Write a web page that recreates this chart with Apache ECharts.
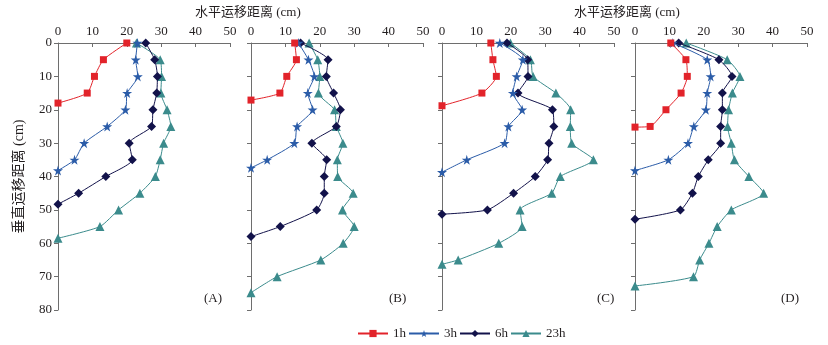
<!DOCTYPE html>
<html>
<head>
<meta charset="utf-8">
<script src="https://cdn.jsdelivr.net/npm/echarts@6/dist/echarts.min.js"></script>
<style>
  html, body { margin: 0; padding: 0; background: #fff; }
  #chart { width: 828px; height: 345px; }
</style>
</head>
<body>
<div id="chart"></div>
<script>
// Horizontal (x) and vertical (y) migration distances, cm, per panel and time
const seriesNames = ['1h', '3h', '6h', '23h'];
const panelLabels = ['(A)', '(B)', '(C)', '(D)'];
const xTicks = [0, 10, 20, 30, 40, 50];
const yTicks = [0, 10, 20, 30, 40, 50, 60, 70, 80];

// Panel A
const A_1h_x = [20, 13.2, 10.6, 8.5, 0];
const A_1h_y = [0, 5, 10, 15, 18];
const A_3h_x = [23.1, 22.6, 23.2, 20.1, 19.6, 14.3, 7.6, 4.8, 0];
const A_3h_y = [0, 5, 10, 15, 20, 25, 30, 35, 38.2];
const A_6h_x = [25.5, 28.1, 28.9, 28.7, 27.6, 27.2, 20.7, 21.6, 13.9, 6.0, 0];
const A_6h_y = [0, 5, 10, 15, 20, 25, 30, 35, 40, 45, 48.3];
const A_23h_x = [22.8, 29.7, 30.1, 29.9, 31.7, 32.8, 30.7, 29.7, 28.3, 23.8, 17.6, 12.2, 0];
const A_23h_y = [0, 5, 10, 15, 20, 25, 30, 35, 40, 45, 50, 55, 58.5];

// Panel B
const B_1h_x = [12.7, 13.2, 10.4, 8.4, 0];
const B_1h_y = [0, 5, 10, 15, 17.1];
const B_3h_x = [13.8, 16.7, 18.4, 16.5, 17.9, 13.4, 12.6, 4.7, 0];
const B_3h_y = [0, 5, 10, 15, 20, 25, 30, 35, 37.4];
const B_6h_x = [14.4, 22.4, 21.9, 24.0, 26.0, 24.8, 17.7, 22.0, 21.3, 21.3, 19.1, 8.5, 0];
const B_6h_y = [0, 5, 10, 15, 20, 25, 30, 35, 40, 45, 50, 55, 58];
const B_23h_x = [16.9, 19.4, 20.0, 19.6, 24.3, 24.8, 26.7, 25.1, 25.2, 29.7, 26.6, 30.0, 26.8, 20.3, 7.6, 0];
const B_23h_y = [0, 5, 10, 15, 20, 25, 30, 35, 40, 45, 50, 55, 60, 65, 70, 74.8];

// Panel C
const C_1h_x = [14.2, 14.8, 15.8, 11.6, 0];
const C_1h_y = [0, 5, 10, 15, 18.8];
const C_3h_x = [16.8, 23.5, 21.7, 20.6, 23.3, 19.3, 18.2, 7.2, 0];
const C_3h_y = [0, 5, 10, 15, 20, 25, 30, 35, 38.7];
const C_6h_x = [18.9, 24.9, 25.0, 22.1, 32.1, 32.5, 31.1, 30.7, 27.1, 20.8, 13.2, 0];
const C_6h_y = [0, 5, 10, 15, 20, 25, 30, 35, 40, 45, 50, 51.3];
const C_23h_x = [19.9, 25.7, 26.5, 33.1, 37.4, 37.3, 37.7, 44.0, 34.4, 31.9, 22.7, 23.3, 16.5, 4.7, 0];
const C_23h_y = [0, 5, 10, 15, 20, 25, 30, 35, 40, 45, 50, 55, 60, 65, 66.3];

// Panel D
const D_1h_x = [10.4, 14.8, 15.2, 13.4, 9.0, 4.4, 0];
const D_1h_y = [0, 5, 10, 15, 20, 25, 25.2];
const D_3h_x = [11.0, 21.0, 22.0, 21.0, 20.6, 17.1, 15.4, 9.7, 0];
const D_3h_y = [0, 5, 10, 15, 20, 25, 30, 35, 38.2];
const D_6h_x = [12.7, 24.4, 28.2, 25.4, 25.4, 24.9, 24.9, 21.3, 18.4, 16.7, 13.2, 0];
const D_6h_y = [0, 5, 10, 15, 20, 25, 30, 35, 40, 45, 50, 52.8];
const D_23h_x = [14.9, 26.8, 30.5, 28.3, 27.2, 26.9, 28.0, 28.9, 33.1, 37.4, 28.0, 23.9, 21.5, 18.8, 17.0, 0];
const D_23h_y = [0, 5, 10, 15, 20, 25, 30, 35, 40, 45, 50, 55, 60, 65, 70, 72.8];

const panels = [
  [[A_1h_x, A_1h_y], [A_3h_x, A_3h_y], [A_6h_x, A_6h_y], [A_23h_x, A_23h_y]],
  [[B_1h_x, B_1h_y], [B_3h_x, B_3h_y], [B_6h_x, B_6h_y], [B_23h_x, B_23h_y]],
  [[C_1h_x, C_1h_y], [C_3h_x, C_3h_y], [C_6h_x, C_6h_y], [C_23h_x, C_23h_y]],
  [[D_1h_x, D_1h_y], [D_3h_x, D_3h_y], [D_6h_x, D_6h_y], [D_23h_x, D_23h_y]]
];

const FONT = '"Liberation Serif", "Times New Roman", serif';
const CJK = '"Liberation Serif", "Noto Sans CJK SC", serif';
const AXIS_COLOR = '#6e6e6e';
const TEXT_COLOR = '#231f20';
const colors = ['#e2232a', '#2b5ca8', '#12124a', '#3b8b8c'];
const starPath = 'path://M50,0 L61,35 L98,35 L68,57 L79,91 L50,70 L21,91 L32,57 L2,35 L39,35 Z';
const symbols = ['rect', starPath, 'diamond', 'triangle'];
const symbolSizes = [7, 10, 9, 9];

const gridLefts = [58, 251, 442, 635];
const grids = [], xAxes = [], yAxes = [], series = [];

gridLefts.forEach((left, i) => {
  grids.push({ left: left, top: 43, width: 172, height: 267 });
  xAxes.push({
    type: 'value', gridIndex: i, position: 'top',
    min: xTicks[0], max: xTicks[xTicks.length - 1], interval: 10,
    axisLine: { show: true, lineStyle: { color: AXIS_COLOR, width: 1 } },
    axisTick: { show: true, inside: true, length: 4, lineStyle: { color: AXIS_COLOR } },
    axisLabel: { color: TEXT_COLOR, fontFamily: FONT, fontSize: 13, margin: 5 },
    splitLine: { show: false }
  });
  yAxes.push({
    type: 'value', gridIndex: i, inverse: true,
    min: yTicks[0], max: yTicks[yTicks.length - 1], interval: 10,
    name: i === 0 ? '垂直运移距离 (cm)' : '',
    nameLocation: 'middle', nameGap: 32,
    nameTextStyle: { color: TEXT_COLOR, fontFamily: CJK, fontSize: 14 },
    axisLine: { show: true, lineStyle: { color: AXIS_COLOR, width: 1 } },
    axisTick: { show: true, inside: false, length: 4, lineStyle: { color: AXIS_COLOR } },
    axisLabel: { show: i === 0, color: TEXT_COLOR, fontFamily: FONT, fontSize: 13, margin: 6 },
    splitLine: { show: false }
  });
  panels[i].forEach((pair, k) => {
    const xs = pair[0], ys = pair[1];
    series.push({
      name: seriesNames[k], type: 'line',
      xAxisIndex: i, yAxisIndex: i,
      data: xs.map((x, j) => [x, ys[j]]),
      smooth: 0.2,
      symbol: symbols[k], symbolSize: symbolSizes[k],
      showAllSymbol: true,
      lineStyle: { color: colors[k], width: 1 },
      itemStyle: { color: colors[k] },
      z: 10 - k
    });
  });
});

const graphics = [
  { type: 'text', left: 195, top: 6, style: { text: '水平运移距离 (cm)', font: '13px ' + CJK, fill: TEXT_COLOR } },
  { type: 'text', left: 574, top: 6, style: { text: '水平运移距离 (cm)', font: '13px ' + CJK, fill: TEXT_COLOR } }
];
const labelPos = [[204, 292], [389, 292], [597, 292], [781, 292]];
panelLabels.forEach((t, i) => {
  graphics.push({ type: 'text', left: labelPos[i][0], top: labelPos[i][1],
    style: { text: t, font: '13px ' + FONT, fill: TEXT_COLOR } });
});

const chart = echarts.init(document.getElementById('chart'), null, { renderer: 'canvas' });
chart.setOption({
  animation: false,
  backgroundColor: '#ffffff',
  grid: grids, xAxis: xAxes, yAxis: yAxes, series: series,
  legend: {
    data: seriesNames, left: 352, top: 322,
    itemWidth: 30, itemHeight: 9, itemGap: 2,
    textStyle: { color: TEXT_COLOR, fontFamily: FONT, fontSize: 13 }
  },
  graphic: graphics
});
</script>
</body>
</html>
